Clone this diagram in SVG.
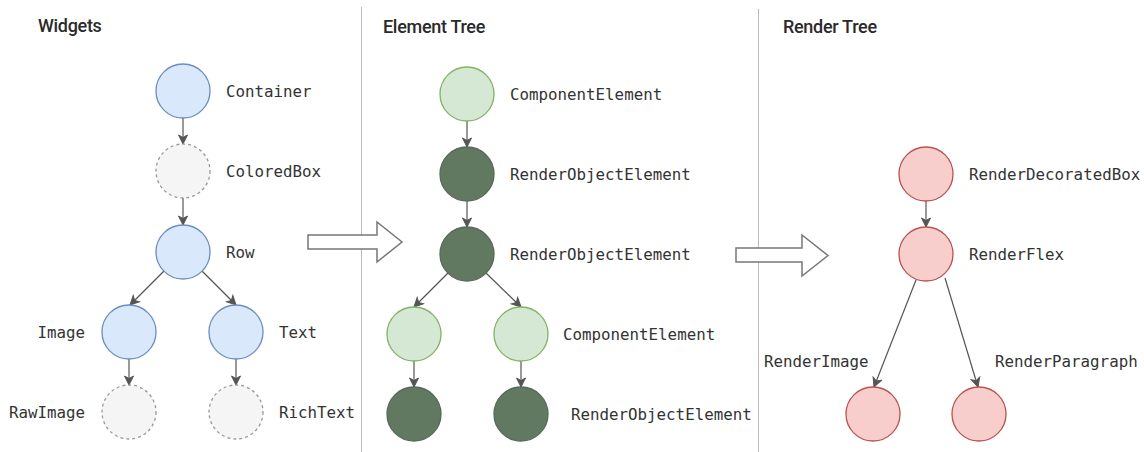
<svg xmlns="http://www.w3.org/2000/svg" width="1144" height="452" viewBox="0 0 1144 452">
<defs>
<marker id="ah" markerUnits="userSpaceOnUse" markerWidth="12" markerHeight="12" viewBox="0 0 12 12" refX="10" refY="6" orient="auto">
<path d="M1,1.5 L10,6 L1,10.5 L3.5,6 Z" fill="#555" stroke="#555" stroke-width="1" stroke-linejoin="miter"/>
</marker>
</defs>
<style>
.title{font-family:Roboto,"Open Sans","Liberation Sans",sans-serif;font-weight:500;font-size:18px;fill:#2a2a2a;letter-spacing:-0.3px}
.lbl{font-family:"DejaVu Sans Mono","Liberation Mono",monospace;font-size:15.8px;fill:#333}
.blue{fill:#dae8fc;stroke:#6c8ebf;stroke-width:1.3}
.gray{fill:#f5f5f5;stroke:#999;stroke-width:1.3;stroke-dasharray:3 3}
.lgreen{fill:#d5e8d4;stroke:#82b366;stroke-width:1.3}
.dgreen{fill:#617861;stroke:#56695a;stroke-width:1.3}
.red{fill:#f8cecc;stroke:#b85450;stroke-width:1.3}
.edge{stroke:#555;stroke-width:1.2;fill:none;marker-end:url(#ah)}
.div{stroke:#bbb;stroke-width:1}
.big{fill:#fff;stroke:#777;stroke-width:1.5;stroke-linejoin:miter}
</style>
<rect width="1144" height="452" fill="#fff"/>
<g id="dividers">
<line class="div" x1="361.5" y1="7" x2="361.5" y2="452"/>
<line class="div" x1="758.5" y1="9" x2="758.5" y2="452"/>
</g>
<g id="titles">
<text class="title" x="38" y="32">Widgets</text>
<text class="title" x="383" y="33">Element Tree</text>
<text class="title" x="783" y="33">Render Tree</text>
</g>
<g id="transitions">
<path class="big" d="M308,235 H377 V222 L402,242 L377,262 V249 H308 Z"/>
<path class="big" d="M736,248 H802 V235 L828,255.5 L802,276 V262 H736 Z"/>
</g>
<g id="connectors">
<line class="edge" x1="183" y1="118" x2="183" y2="144"/>
<line class="edge" x1="183" y1="198" x2="183" y2="225"/>
<line class="edge" x1="164" y1="271" x2="130" y2="305"/>
<line class="edge" x1="202" y1="271" x2="236" y2="305"/>
<line class="edge" x1="129" y1="359" x2="129" y2="385"/>
<line class="edge" x1="236" y1="359" x2="236" y2="385"/>
<line class="edge" x1="467" y1="121" x2="467" y2="147"/>
<line class="edge" x1="467" y1="201" x2="467" y2="227"/>
<line class="edge" x1="448" y1="273" x2="414" y2="307"/>
<line class="edge" x1="486" y1="273" x2="521" y2="307"/>
<line class="edge" x1="414" y1="361" x2="414" y2="387"/>
<line class="edge" x1="521" y1="361" x2="521" y2="387"/>
<line class="edge" x1="926" y1="201" x2="926" y2="227"/>
<line class="edge" x1="916" y1="280" x2="874" y2="387"/>
<line class="edge" x1="945" y1="278" x2="978" y2="387"/>
</g>
<g id="w-container"><circle class="blue" cx="183" cy="91" r="27"/><text class="lbl" x="226" y="97">Container</text></g>
<g id="w-coloredbox"><circle class="gray" cx="183" cy="171" r="27"/><text class="lbl" x="226" y="177">ColoredBox</text></g>
<g id="w-row"><circle class="blue" cx="183" cy="252" r="27"/><text class="lbl" x="226" y="258">Row</text></g>
<g id="w-image"><circle class="blue" cx="129" cy="332" r="27"/><text class="lbl" x="85" y="338" text-anchor="end">Image</text></g>
<g id="w-text"><circle class="blue" cx="236" cy="332" r="27"/><text class="lbl" x="279" y="338">Text</text></g>
<g id="w-rawimage"><circle class="gray" cx="129" cy="412" r="27"/><text class="lbl" x="85" y="418" text-anchor="end">RawImage</text></g>
<g id="w-richtext"><circle class="gray" cx="236" cy="412" r="27"/><text class="lbl" x="279" y="418">RichText</text></g>
<g id="e-component"><circle class="lgreen" cx="467" cy="94" r="27"/><text class="lbl" x="510" y="100">ComponentElement</text></g>
<g id="e-render1"><circle class="dgreen" cx="467" cy="174" r="27"/><text class="lbl" x="510" y="180">RenderObjectElement</text></g>
<g id="e-render2"><circle class="dgreen" cx="467" cy="254" r="27"/><text class="lbl" x="510" y="260">RenderObjectElement</text></g>
<g id="e-component-left"><circle class="lgreen" cx="414" cy="334" r="27"/></g>
<g id="e-component-right"><circle class="lgreen" cx="521" cy="334" r="27"/><text class="lbl" x="563" y="340">ComponentElement</text></g>
<g id="e-render-left"><circle class="dgreen" cx="414" cy="414" r="27"/></g>
<g id="e-render-right"><circle class="dgreen" cx="521" cy="414" r="27"/><text class="lbl" x="571" y="420">RenderObjectElement</text></g>
<g id="r-decoratedbox"><circle class="red" cx="926" cy="174" r="27"/><text class="lbl" x="969" y="180">RenderDecoratedBox</text></g>
<g id="r-flex"><circle class="red" cx="926" cy="254" r="27"/><text class="lbl" x="969" y="260">RenderFlex</text></g>
<g id="r-image"><circle class="red" cx="873" cy="414" r="27"/><text class="lbl" x="764" y="367">RenderImage</text></g>
<g id="r-paragraph"><circle class="red" cx="979" cy="414" r="27"/><text class="lbl" x="995" y="367">RenderParagraph</text></g>
</svg>
